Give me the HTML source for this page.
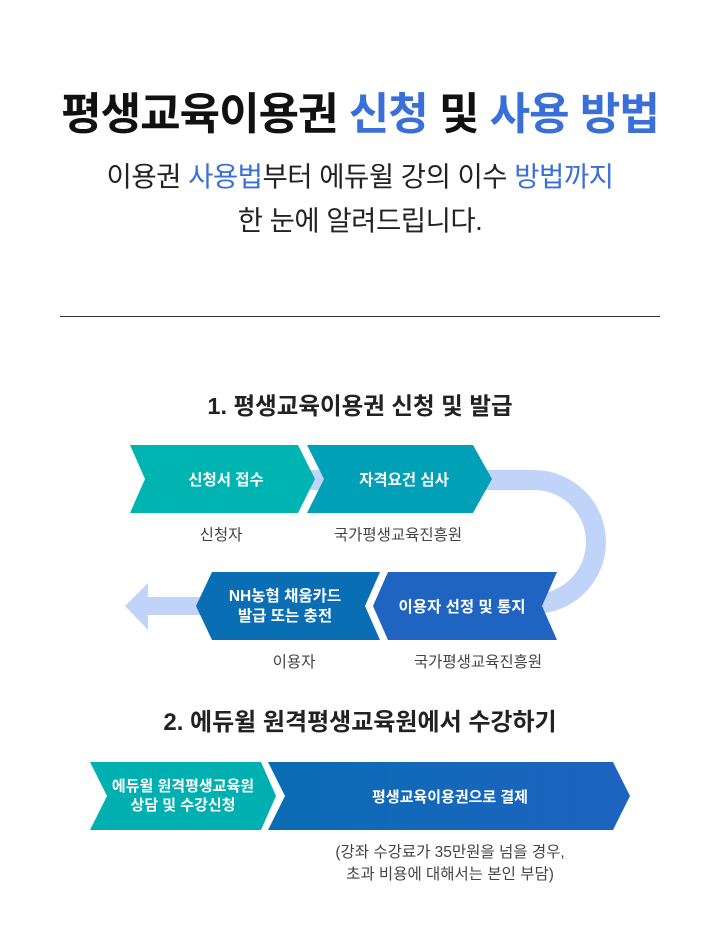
<!DOCTYPE html>
<html><head><meta charset="utf-8"><style>
html,body{margin:0;padding:0;background:#fff;}
body{width:720px;height:933px;overflow:hidden;}
svg text{font-family:"Liberation Sans","Noto Sans CJK KR",sans-serif;}
</style></head><body>
<svg width="720" height="933" viewBox="0 0 720 933" xmlns="http://www.w3.org/2000/svg">
<defs>
<linearGradient id="g2" x1="0" x2="1" y1="0" y2="0"><stop offset="0" stop-color="#0a6cb4"/><stop offset="1" stop-color="#1e63c0"/></linearGradient>
</defs>
<text x="360" y="129" text-anchor="middle" font-size="44" font-weight="bold" fill="#111" letter-spacing="-1">평생교육이용권 <tspan fill="#3a6fd8">신청</tspan> 및 <tspan fill="#3a6fd8">사용 방법</tspan></text>
<text x="360" y="186" text-anchor="middle" font-size="27.5" fill="#222" letter-spacing="-0.5">이용권 <tspan fill="#3a6fd8">사용법</tspan>부터 에듀윌 강의 이수 <tspan fill="#3a6fd8">방법까지</tspan></text>
<text x="360" y="230" text-anchor="middle" font-size="27.5" fill="#222" letter-spacing="-0.5">한 눈에 알려드립니다.</text>
<rect x="60" y="316" width="600" height="1" fill="#333"/>

<text x="360" y="414" text-anchor="middle" font-size="23.5" font-weight="bold" fill="#222">1. 평생교육이용권 신청 및 발급</text>

<path d="M300 480 L534 480 A62 62 0 0 1 534 604 L520 604" fill="none" stroke="#c0d4fa" stroke-width="20"/>
<rect x="140" y="597" width="80" height="18" fill="#c0d4fa"/>
<polygon points="125,606 148,583 148,630" fill="#c0d4fa"/>

<polygon points="130,445 298,445 315,479 298,513 130,513 145,479" fill="#00b5b1"/>
<polygon points="307,445 473,445 492,479 473,513 307,513 324,479" fill="#00a0b6"/>
<polygon points="388,572 557,572 542,606 557,640 388,640 373,606" fill="#1e64c0"/>
<polygon points="212,572 380,572 365,606 380,640 212,640 196,606" fill="#0a6eb4"/>

<g font-size="15.5" font-weight="bold" fill="#fff" text-anchor="middle">
<text x="226" y="485">신청서 접수</text>
<text x="404" y="485">자격요건 심사</text>
<text x="462" y="612">이용자 선정 및 통지</text>
<text x="285" y="601">NH농협 채움카드</text>
<text x="285" y="621">발급 또는 충전</text>
</g>
<g font-size="15.5" fill="#444" text-anchor="middle">
<text x="221" y="540">신청자</text>
<text x="398" y="540">국가평생교육진흥원</text>
<text x="294" y="667">이용자</text>
<text x="478" y="667">국가평생교육진흥원</text>
</g>

<text x="360" y="730" text-anchor="middle" font-size="24" font-weight="bold" fill="#222">2. 에듀윌 원격평생교육원에서 수강하기</text>

<polygon points="90,762 261,762 276,796 261,830 90,830 107,796" fill="#00b0b1"/>
<polygon points="268,762 613,762 630,796 613,830 268,830 285,796" fill="url(#g2)"/>
<g font-size="15" font-weight="bold" fill="#fff" text-anchor="middle">
<text x="183" y="791">에듀윌 원격평생교육원</text>
<text x="183" y="810">상담 및 수강신청</text>
<text x="450" y="802">평생교육이용권으로 결제</text>
</g>
<g font-size="15.5" fill="#444" text-anchor="middle">
<text x="450" y="857">(강좌 수강료가 35만원을 넘을 경우,</text>
<text x="450" y="879">초과 비용에 대해서는 본인 부담)</text>
</g>
</svg>
</body></html>
